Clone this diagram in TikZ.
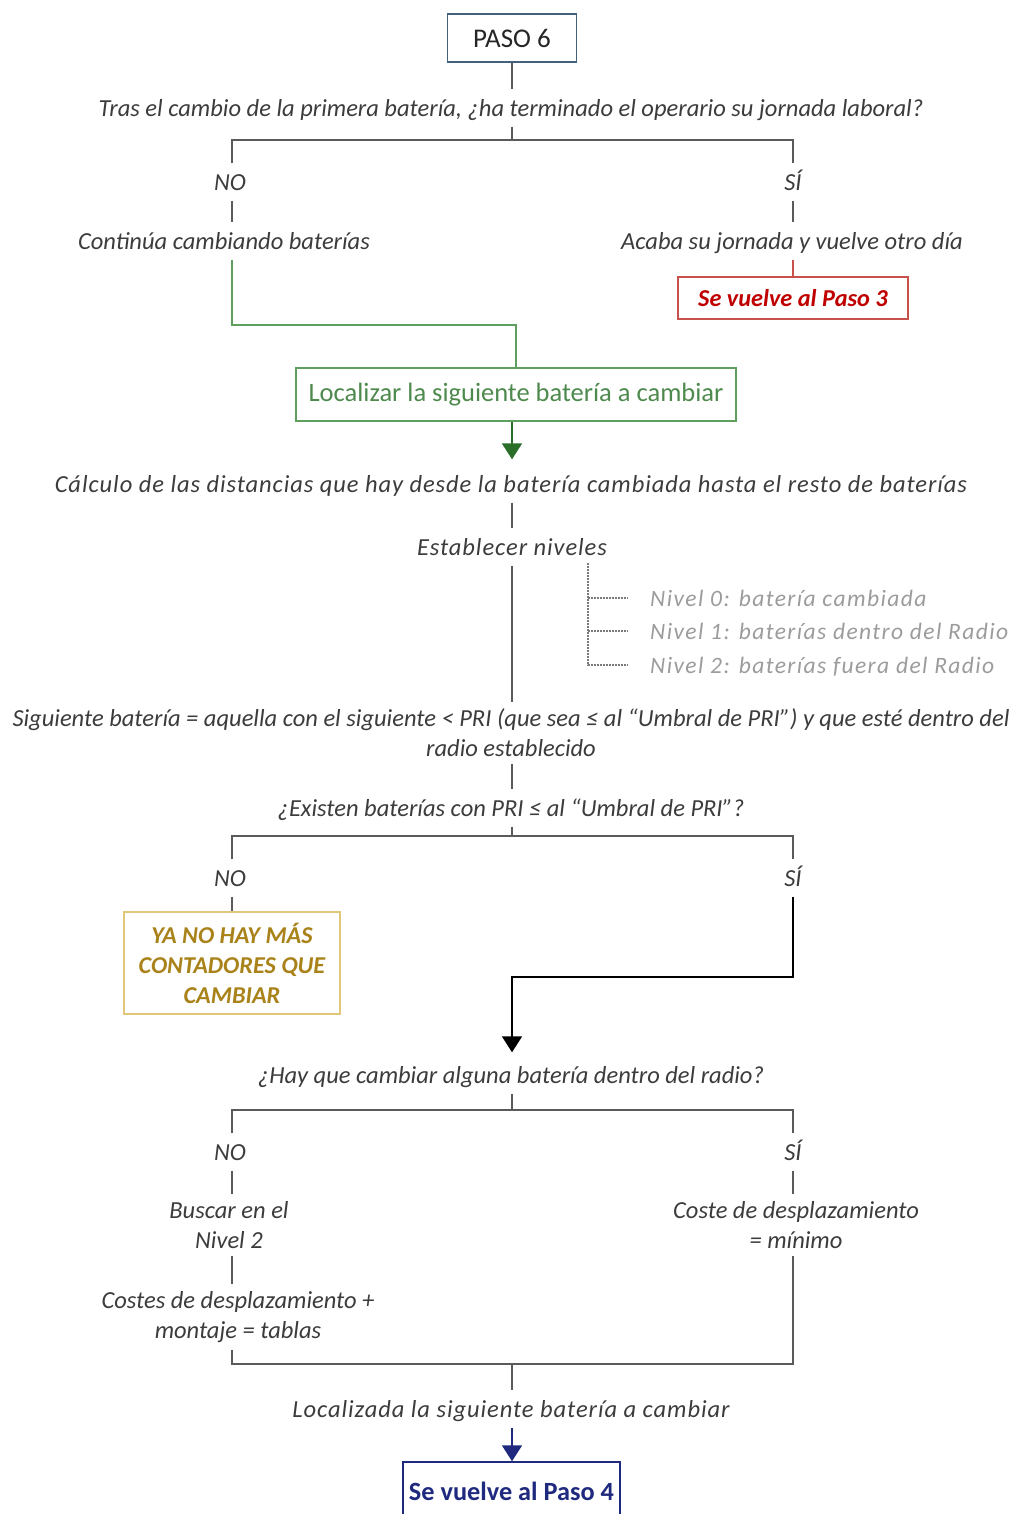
\documentclass[tikz,border=0pt]{standalone}
\usepackage{fontspec}
\setmainfont{Carlito}
\usetikzlibrary{arrows.meta}

\definecolor{ink}{HTML}{3C3C3C}
\definecolor{wire}{HTML}{5A5A5A}
\definecolor{stepblue}{HTML}{42617D}
\definecolor{stopred}{HTML}{C00000}
\definecolor{stopredline}{HTML}{C8504D}
\definecolor{gotext}{HTML}{4E8A4E}
\definecolor{goline}{HTML}{5E9E5E}
\definecolor{godark}{HTML}{2A6E2A}
\definecolor{endgold}{HTML}{A9831A}
\definecolor{endgoldline}{HTML}{E2C77A}
\definecolor{navy}{HTML}{1F2A7F}
\definecolor{levelgray}{HTML}{9C9C9C}
\definecolor{treegray}{HTML}{7A7A7A}

\tikzset{
  flow/.style={font=\fontsize{24.5}{30}\selectfont\itshape, text=ink,
    inner xsep=2pt, inner ysep=7pt, text height=20pt, text depth=3pt},
  flowwide/.style={flow, font=\fontsize{24.5}{30}\selectfont\itshape\addfontfeatures{LetterSpace=3.8}},
  flowmulti/.style={font=\fontsize{24.5}{30}\selectfont\itshape, text=ink,
    inner xsep=2pt, inner ysep=7pt, align=center},
  level/.style={font=\fontsize{23.5}{28}\selectfont\itshape\addfontfeatures{LetterSpace=6}, text=levelgray,
    anchor=west, inner sep=0pt, text height=20pt, text depth=3pt},
  stepbox/.style={draw=stepblue, line width=1.5pt, minimum width=129pt, minimum height=48pt,
    font=\fontsize{27}{30}\selectfont, text=black!85},
  stopbox/.style={draw=stopredline, line width=1.5pt, minimum width=230pt, minimum height=42pt,
    font=\fontsize{24.3}{28}\selectfont\bfseries\itshape, text=stopred},
  gobox/.style={draw=goline, line width=1.5pt, minimum width=440pt, minimum height=53pt,
    font=\fontsize{26.5}{30}\selectfont, text=gotext},
  endbox/.style={draw=endgoldline, line width=1.5pt, minimum width=216pt, minimum height=102pt,
    font=\fontsize{24.2}{30}\selectfont\bfseries\itshape, text=endgold, align=center},
  backbox/.style={draw=navy, line width=1.5pt, minimum width=217pt, minimum height=58pt,
    font=\fontsize{26.3}{30}\selectfont\bfseries, text=navy},
  link/.style={draw=wire, line width=1.8pt},
  stoplink/.style={draw=stopredline, line width=1.8pt},
  golink/.style={draw=goline, line width=1.8pt},
  goarrow/.style={draw=godark, line width=1.8pt, -{Triangle[width=20pt,length=16pt]}},
  downarrow/.style={draw=black, line width=1.8pt, -{Triangle[width=20pt,length=16pt]}},
  backarrow/.style={draw=navy, line width=1.8pt, -{Triangle[width=20pt,length=16pt]}},
  treeline/.style={draw=treegray, line width=1.4pt, dash pattern=on 1.6pt off 1.4pt},
}

\begin{document}
\begin{tikzpicture}[x=1pt,y=-1pt]
\useasboundingbox (0,0) rectangle (1015,1514);
\fill[white] (0,0) rectangle (1015,1514);

% ---- step 6: end of the working day? ----
\node[stepbox] (paso) at (512,38) {PASO 6};
\node[flow] (q1) at (511,108) {Tras el cambio de la primera batería, ¿ha terminado el operario su jornada laboral?};
\coordinate (bar1) at (512,140);
\node[flow] (no1) at (230,182) {NO};
\node[flow] (si1) at (793,182) {SÍ};
\node[flow] (cont) at (224,241) {Continúa cambiando baterías};
\node[flow] (acaba) at (792,241) {Acaba su jornada y vuelve otro día};
\node[stopbox] (paso3) at (793,298) {Se vuelve al Paso 3};

% ---- locate next battery ----
\coordinate (merge1) at (516,325);
\node[gobox] (loc1) at (516,394.5) {Localizar la siguiente batería a cambiar};
\node[flowwide] (calc) at (511,484) {Cálculo de las distancias que hay desde la batería cambiada hasta el resto de baterías};
\node[flowwide] (estab) at (512,547) {Establecer niveles};
\coordinate (treetop) at (588,563);
\node[level] (n0) at (650,598) {Nivel 0: batería cambiada};
\node[level] (n1) at (650,631) {Nivel 1: baterías dentro del Radio};
\node[level] (n2) at (650,665) {Nivel 2: baterías fuera del Radio};
\node[flowmulti] (sig) at (511,733) {Siguiente batería = aquella con el siguiente < PRI (que sea ≤ al “Umbral de PRI”) y que esté dentro del\\radio establecido};

% ---- any batteries under the threshold? ----
\node[flow] (q3) at (511,808) {¿Existen baterías con PRI ≤ al “Umbral de PRI”?};
\coordinate (bar2) at (512,836);
\node[flow] (no2) at (230,878) {NO};
\node[flow] (si2) at (793,878) {SÍ};
\node[endbox] (fin) at (232,963) {YA NO HAY MÁS\\CONTADORES QUE\\CAMBIAR};
\coordinate (bend2) at (512,977);

% ---- inside the radius? ----
\node[flow] (q4) at (511,1075) {¿Hay que cambiar alguna batería dentro del radio?};
\coordinate (bar3) at (512,1110);
\node[flow] (no3) at (230,1152) {NO};
\node[flow] (si3) at (793,1152) {SÍ};
\node[flowmulti] (busc) at (229,1225) {Buscar en el\\Nivel 2};
\node[flowmulti] (coste) at (796,1225) {Coste de desplazamiento\\= mínimo};
\node[flowmulti] (costes) at (238,1317) {Costes de desplazamiento +\\montaje = tablas};
\coordinate (bar4) at (512,1364);
\node[flowwide] (loc2) at (511,1409) {Localizada la siguiente batería a cambiar};
\node[backbox] (paso4) at (511.5,1491) {Se vuelve al Paso 4};

% ---- connectors ----
\draw[link] (paso.south) -- (paso.south |- q1.north);
\draw[link] (q1.south -| bar1) -- (bar1);
\draw[link] (no1.north -| fin) |- (bar1) -| (si1);
\draw[link] (no1.south -| fin) -- (cont.north -| fin);
\draw[link] (si1.south) -- (si1.south |- acaba.north);
\draw[stoplink] (acaba.south -| si1) -- (paso3.north);
\draw[golink] (cont.south -| fin) |- (merge1) -- (loc1.north);
\draw[goarrow, shorten >=6pt] (loc1.south -| estab) -- (calc.north -| estab);
\draw[link] (calc.south -| estab) -- (estab.north);
\draw[link] (estab.south) -- (sig.north -| estab);
\draw[treeline] (treetop) |- ([xshift=-22pt]n2.west);
\draw[treeline] (treetop |- n0) -- ([xshift=-22pt]n0.west);
\draw[treeline] (treetop |- n1) -- ([xshift=-22pt]n1.west);
\draw[link] (sig.south -| estab) -- (q3.north -| estab);
\draw[link] (q3.south -| bar2) -- (bar2);
\draw[link] (no2.north -| fin) |- (bar2) -| (si2);
\draw[link] (no2.south -| fin) -- (fin.north);
\draw[downarrow, shorten >=4pt] (si2) |- (bend2) -- (q4.north -| bend2);
\draw[link] (q4.south -| bar3) -- (bar3);
\draw[link] (no3.north -| fin) |- (bar3) -| (si3);
\draw[link] (no3.south -| fin) -- (busc.north -| fin);
\draw[link] (si3.south) -- (si3.south |- coste.north);
\draw[link] (busc.south -| fin) -- (costes.north -| fin);
\draw[link] (costes.south -| fin) |- (bar4) -| (coste.south -| si3);
\draw[link] (bar4) -- (loc2.north -| bar4);
\draw[backarrow] (loc2.south -| bar4) -- (paso4.north -| bar4);
\end{tikzpicture}
\end{document}
